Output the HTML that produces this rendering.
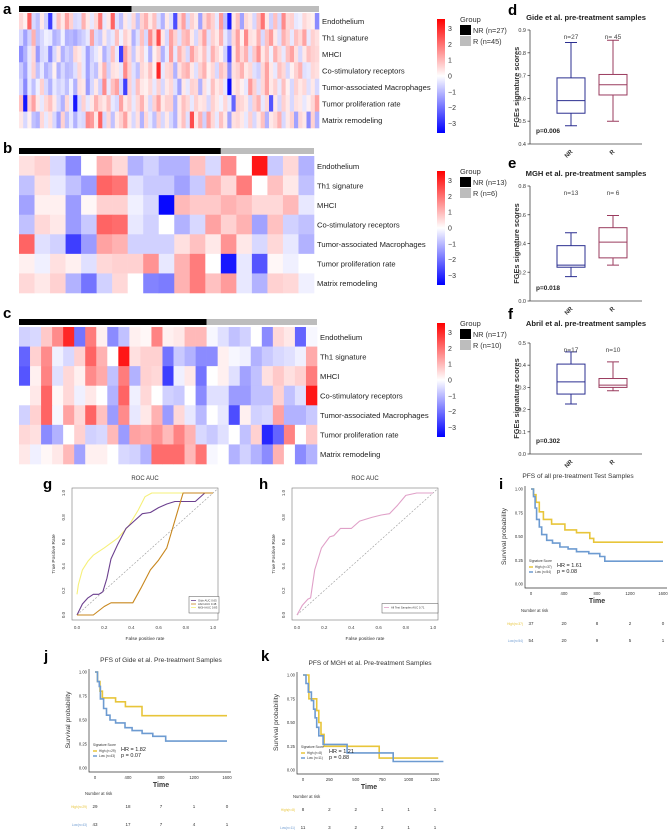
<!DOCTYPE html>
<html><head><meta charset="utf-8">
<style>
html,body{margin:0;padding:0;background:#fff;}
svg{display:block;font-family:"Liberation Sans",sans-serif;}
</style></head>
<body>
<svg id="fig" width="671" height="833" viewBox="0 0 671 833" xmlns="http://www.w3.org/2000/svg">
<defs>
<linearGradient id="cbgrad" x1="0" y1="0" x2="0" y2="1">
<stop offset="0" stop-color="#ff0000"/><stop offset="0.5" stop-color="#ffffff"/><stop offset="1" stop-color="#0000ff"/>
</linearGradient>
</defs>
</svg>
<script>
// ---------------- DATA ----------------
const rowLabels = ["Endothelium","Th1 signature","MHCI","Co-stimulatory receptors","Tumor-associated Macrophages","Tumor proliferation rate","Matrix remodeling"];
const heatA = [
[.5,.2,2,-.5,-.8,.3,-.6,-2.5,-.3,.8,.3,1.2,.6,-.5,-.4,1,.3,-.3,.5,1.7,-.3,.3,2,-.4,-.8,.3,-.3,.5,-.8,.6,1,.3,.8,-.4,-1,.3,-.4,-2.3,.5,1.2,-.5,.6,.3,-1.2,.5,1,.6,-.3,1.3,-.8,-3,.3,.8,-1.2,.5,.3,-.5,.8,1.8,.3,-.6,.8,-.5,1.5,.5,.6,-.3,-.2,.5,.3,.2,-1.5],
[-.5,-1.2,-.6,1,-.8,-.5,-.2,-.3,-1,-.8,-.2,-1,-.9,-1.1,-.8,-.6,-.3,1.2,-.5,-.7,.3,-.5,-.3,.8,-.2,.6,.3,-1,-.4,.8,-.5,1.5,.5,2.3,.3,-.5,1.2,.6,-.4,.8,1,.3,-.5,.5,1.2,-.4,.6,.3,1,-.3,-.8,.5,1.2,.2,1.5,.4,.3,1,-.5,.8,1.3,.3,-.4,1,.6,-.3,.8,.5,1.2,-.3,.6,.4],
[-1.5,-1,-.3,.5,-1.3,-.5,-.4,-1.5,-.5,.3,-1,-.6,-.8,.5,.3,-.3,-1.2,-.6,-.3,.2,-1,-.5,.8,-.3,-2.5,1.2,.5,-.7,.3,.6,-.2,-1,.2,.6,-1,-.3,1.3,-.3,1,.5,-.5,1.2,.6,.3,.8,-.3,1,.5,.2,-.6,-2.5,.3,1.2,.5,1,-.4,.7,1.4,.3,.8,-.2,1,.5,-.3,.8,1.2,.4,-.5,.3,.8,.6,.5],
[-.7,-1.2,-.3,.6,-.8,-.3,-1,-.7,.2,-1,-.5,-.9,-.8,-.4,.5,-.3,-1.2,-.5,-.8,.3,1,-.6,.4,.3,-.3,1.5,.6,-.4,-.8,.5,.3,.8,.2,2.8,-.3,.5,.6,-1,.4,.8,1,.3,-.4,.6,1,.2,.5,-.5,.8,.5,-1.5,.4,.6,1,.3,.5,-.4,-.6,.5,1.2,.3,-.3,.8,.5,-.5,.2,.6,1,-.4,-.3,.5,.4],
[-.5,-1.5,-.3,-.8,-.2,.6,-.5,-1,-.3,-.6,-.4,-.8,-.2,-1,.4,.3,-1.3,-.5,.3,-.6,1.5,-.3,.8,1.2,-.5,-2.5,.6,-.4,.8,.3,.2,.5,-.3,.6,-.5,.3,.5,-.4,-1.2,.3,-.3,.6,.5,-1,.4,-.2,.8,.3,.5,-.3,-3.2,.3,.5,.2,-.3,1.3,.6,-.4,.5,1.2,.3,.6,-.3,.8,.2,-.5,.6,.3,.5,-.4,.3,-.5],
[.8,-3,.6,1.2,.3,-.3,.5,.8,.3,-.5,-1,.5,-.3,-3,-.5,.6,-.3,.3,1,.5,.3,.8,-.3,-.5,1.2,.3,.6,-.3,.5,1,.3,-.5,.6,1.2,.3,.6,.6,-1,.3,.8,.5,-.3,.6,.3,.4,-.5,.6,.3,-.2,.5,-.3,-2,.6,.5,.3,-.5,.6,1,-.3,.5,-2.2,.3,-.5,.6,.3,-.5,.4,.3,-.3,.2,.5,1.2],
[.3,-.5,.2,-.8,-1,.5,-.3,.4,-.5,-1.2,.6,-.8,-.3,-1,-.4,-.5,1.5,1.3,.3,2,-.5,.5,-.8,.3,.6,1.2,.3,-.5,.4,-1,.5,-.3,-.8,.6,-.5,.3,-.5,-1,.3,.8,-.4,2.3,.3,1,-.6,1.2,.5,-.3,.8,.3,-1.2,.4,.5,.3,-.3,.6,-.5,.3,.8,-1,.3,.5,1,-.5,.3,.6,-1.2,.5,.3,-1.5,.6,-1]
];
const heatB = [
[.4,.6,-.5,-1.5,0,1,.5,-1,-.6,-1,-1,.8,-.5,1.5,0,3,-.7,.5,-1],
[-.8,.4,-.3,-.8,-1.3,2,1.8,-.4,-.7,-.7,-1.2,-.7,1,.5,1.7,0,.8,.3,-.8],
[-1.2,.2,.2,-1.3,.1,.6,.6,-.2,-.5,-3.2,.9,.7,.7,1,.8,.5,.5,.9,-.3],
[-.8,.5,.3,-1.3,-.7,2,1.9,-.3,-.6,0,-1,-.5,1.2,.6,1,-1.2,.8,-.6,-.8],
[2,-.4,-.6,-2.5,-1.3,1.2,1,-.6,-.6,-.6,.4,.8,.3,1.4,.3,-.5,.5,-.3,-1],
[.2,-.2,.4,.2,-.4,.5,.6,.6,1.4,-.3,1,1.7,0,-3,-.3,-2.2,.1,-.2,0],
[.5,.3,.6,-1,-1.8,-.6,.5,0,-1.6,-1.7,1,1.7,.8,1.3,-.3,-1,.6,.5,-.2]
];
const heatC = [
[-.6,-.5,.7,1.5,2.8,-1.8,1.7,.2,-1.5,-.8,.2,.1,1.6,.2,.3,.9,.9,-.1,-.4,-.8,-.6,0,-1.5,.5,.3,-2,-.1],
[-2,.6,1.5,-.2,-.5,.6,2,1,0,3,.4,.6,.6,-1.8,-.7,-1,-1.5,-1.5,.2,-.1,-.2,-1,-.7,-.5,-.4,-.2,1.1],
[-2.2,.2,1.6,-.4,.5,.2,1.5,1.1,-.8,1.7,-1,.6,.5,-2.5,-.2,.3,-1.8,0,.2,-.4,-1.2,-.8,.4,.7,.4,.6,1.7],
[0,.3,2,.1,.5,-.2,.3,0,-1,2,-.2,.5,0,-.6,-.7,0,-1.5,-.4,-.4,-1.3,-1.3,-.8,-.8,.6,-.8,-.4,3],
[-.6,.6,2,-.1,1.2,.5,2,.8,-1.3,1.5,-.3,.3,1,-1.3,.5,-.3,-.9,0,-.3,-2.3,.2,-.6,-.5,1.2,-1,-1,-.7],
[.5,.4,-1.5,-1,0,.6,-.6,-.5,.9,-1.3,1.2,1.1,1.4,.9,1.6,1,-.5,-.7,-.4,0,-.8,.6,-2.8,-2,1.6,0,.7],
[.3,-.2,.1,.3,.9,-1.2,.2,.2,0,-.5,-.6,-1,1.9,1.9,1.9,.9,1.8,-.1,0,-1,-.6,-1,-1.5,1,0,-1.5,-1]
];
const cbTicks = [3,2,1,0,-1,-2,-3];

// box plots: [min, q1, median, q3, max]
const boxGroups = ["NR","R"];
const boxD = [[.48,.535,.59,.69,.845],[.5,.615,.66,.705,.855]];
const boxE = [[.17,.235,.25,.385,.475],[.25,.3,.41,.51,.595]];
const boxF = [[.225,.27,.325,.405,.46],[.285,.3,.31,.34,.415]];
const boxTicksD = [0.4,0.5,0.6,0.7,0.8,0.9];
const boxTicksE = [0.0,0.2,0.4,0.6,0.8];
const boxTicksF = [0.0,0.1,0.2,0.3,0.4,0.5];

// ROC curves
const rocTicks = [0,0.2,0.4,0.6,0.8,1.0];
const rocGideFpr = [0,.04,.08,.12,.16,.19,.22,.25,.3,.36,.42,.48,.54,.6,.66,.72,.8,.87,.94,1];
const rocGideTpr = [0,.09,.14,.17,.17,.19,.3,.46,.58,.71,.77,.83,.84,.88,.91,.93,.93,.93,1,1];
const rocAbrilFpr = [0,.12,.2,.25,.41,.47,.54,.6,.66,.7,.74,.78,1];
const rocAbrilTpr = [0,0,.07,.1,.1,.22,.37,.45,.55,.7,.85,1,1];
const rocMghFpr = [0,.01,.04,.08,.12,.2,.3,.38,.45,.5,.55,.6,1];
const rocMghTpr = [.17,.25,.37,.44,.49,.55,.63,.73,.86,.97,1,1,1];
const rocAllFpr = [0,.04,.08,.1,.13,.18,.24,.27,.32,.4,.46,.55,.62,.68,.74,.8,.88,1];
const rocAllTpr = [0,.08,.13,.14,.37,.55,.64,.65,.71,.71,.77,.8,.82,.83,.9,.98,1,1];

// Kaplan-Meier (step start times and survival values)
const kmITimesHigh = [0,30,60,100,150,250,411,552,713,760];
const kmISurvHigh  = [1,.94,.86,.76,.68,.63,.57,.54,.48,.44];
const kmITimesLow  = [0,30,50,68,100,130,190,260,350,450,552,700,834,895];
const kmISurvLow   = [1,.92,.8,.68,.6,.52,.46,.43,.39,.37,.34,.32,.29,.24];
const kmJTimesHigh = [0,30,60,90,250,368,570];
const kmJSurvHigh  = [1,.9,.8,.73,.69,.64,.545];
const kmJTimesLow  = [0,30,52,65,104,140,182,250,364,450,571,700,857];
const kmJSurvLow   = [1,.9,.85,.72,.62,.55,.5,.47,.42,.39,.36,.33,.28];
const kmKTimesHigh = [0,56,130,150,170,200,722];
const kmKSurvHigh  = [1,.75,.625,.5,.375,.25,.125];
const kmKTimesLow  = [0,28,50,80,100,115,130,150,190,418,854];
const kmKSurvLow   = [1,.91,.82,.73,.64,.55,.45,.36,.27,.18,.09];
const riskIHigh = [37,20,8,2,0];
const riskILow  = [54,20,9,5,1];
const riskJHigh = [29,18,7,1,0];
const riskJLow  = [43,17,7,4,1];
const riskKHigh = [8,2,2,1,1,1];
const riskKLow  = [11,3,2,2,1,1];
const kmTicks16 = [0,400,800,1200,1600];
const kmTicks125 = [0,250,500,750,1000,1250];
const survTicks = [0,0.25,0.5,0.75,1.0];

// ---------------- HELPERS ----------------
const NS='http://www.w3.org/2000/svg';
const svg=document.getElementById('fig');
function mk(tag,attrs,parent){const e=document.createElementNS(NS,tag);for(const k in attrs)e.setAttribute(k,attrs[k]);(parent||svg).appendChild(e);return e;}
function txt(x,y,s,attrs,parent){const e=mk('text',Object.assign({x:x,y:y},attrs||{}),parent);e.textContent=s;return e;}
function col(v){const t=Math.max(-1,Math.min(1,v/3.3));if(t>=0){const c=Math.round(255*(1-t));return 'rgb(255,'+c+','+c+')';}const c=Math.round(255*(1+t));return 'rgb('+c+','+c+',255)';}
function grp(name){const g=mk('g',{});return g;}

function panelLetter(x,y,s){const t=txt(x,y,s,{'font-size':15,'font-weight':'bold','fill':'#000'});}

// ---------------- HEATMAPS ----------------
function drawHeat(id,data,nNR,x0,x1,yBar,yTop,yBot,cbY0,cbY1,nrN,rN){
  const g=grp('heatmap-'+id);
  const nCols=data[0].length, nRows=data.length;
  const cw=(x1-x0)/nCols, rh=(yBot-yTop)/nRows;
  const xNR=x0+nNR*cw;
  let r=mk('rect',{x:x0,y:yBar,width:xNR-x0,height:6,fill:'#000'},g);
  
  r=mk('rect',{x:xNR,y:yBar,width:x1-xNR,height:6,fill:'#bdbdbd'},g);
  
  for(let i=0;i<nRows;i++){
    for(let j=0;j<nCols;j++){
      const c=mk('rect',{x:x0+j*cw,y:yTop+i*rh,width:cw+0.3,height:rh+0.3,fill:col(data[i][j])},g);
      
      
    }
    const l=txt(x1+3,yTop+(i+0.5)*rh+3,rowLabels[i],{'font-size':7.6,'fill':'#222'},g);
    
    
  }
  // colorbar
  const cb=mk('rect',{x:437,y:cbY0,width:8,height:cbY1-cbY0,fill:'url(#cbgrad)'},g);
  
  const mid=(cbY0+cbY1)/2, per=(cbY1-cbY0)/2/3.6;
  cbTicks.forEach(function(v){const t=txt(448,mid-v*per+2.5,String(v).replace('-','\u2212'),{'font-size':7,'fill':'#333'},g);});
  // legend
  const ly=cbY0+3;
  let t=txt(460,ly,'Group',{'font-size':7.5,'fill':'#333'},g);
  r=mk('rect',{x:460,y:ly+3,width:11,height:10,fill:'#000'},g);
  r=mk('rect',{x:460,y:ly+14,width:11,height:10,fill:'#bdbdbd'},g);
  t=txt(473,ly+11,'NR (n='+nrN+')',{'font-size':7.3,'fill':'#333'},g);
  t=txt(473,ly+22,'R (n='+rN+')',{'font-size':7.3,'fill':'#333'},g);
}
drawHeat('a',heatA,27,19,319,6,13,128,19,133,27,45);
drawHeat('b',heatB,13,19,314,148,156,293,171,285,13,6);
drawHeat('c',heatC,17,19,317,319,327,464,323,437,17,10);
panelLetter(3,14,'a');panelLetter(3,153,'b');panelLetter(3,318,'c');

// ---------------- BOX PLOTS ----------------
function drawBox(id,title,data,ticks,yTopPx,yBotPx,nLabels,pLabel,titleY){
  const g=grp('boxplot-'+id);
  const vmin=ticks[0],vmax=ticks[ticks.length-1];
  const y=function(v){return yBotPx-(v-vmin)/(vmax-vmin)*(yBotPx-yTopPx);};
  const ax=530, xs=[571,613], colors=['#2b2f90','#9a3b5e'];
  let t=txt(586,titleY,title,{'font-size':7.6,'font-weight':'bold','text-anchor':'middle','fill':'#222'},g);
  let l=mk('line',{x1:ax,y1:yTopPx,x2:ax,y2:yBotPx,stroke:'#444','stroke-width':0.8},g);
  l=mk('line',{x1:ax,y1:yBotPx,x2:642,y2:yBotPx,stroke:'#444','stroke-width':0.8},g);
  ticks.forEach(function(v){
    const tk=mk('line',{x1:ax-2.5,y1:y(v),x2:ax,y2:y(v),stroke:'#444','stroke-width':0.8},g);
    const tl=txt(ax-4,y(v)+2,v.toFixed(1),{'font-size':5.5,'text-anchor':'end','fill':'#333'},g);
  });
  const mid=(yTopPx+yBotPx)/2;
  t=txt(519,mid,'FGEs signature scores',{'font-size':7.4,'font-weight':'bold','text-anchor':'middle','fill':'#333','transform':'rotate(-90 519 '+mid+')'},g);
  data.forEach(function(d,i){
    const cx=xs[i], w=14, c=colors[i];
    const wh=mk('path',{d:'M'+cx+' '+y(d[0])+'V'+y(d[1])+'M'+cx+' '+y(d[3])+'V'+y(d[4])+'M'+(cx-6)+' '+y(d[0])+'H'+(cx+6)+'M'+(cx-6)+' '+y(d[4])+'H'+(cx+6),stroke:c,'stroke-width':1,fill:'none'},g);
    
    const b=mk('rect',{x:cx-w,y:y(d[3]),width:2*w,height:y(d[1])-y(d[3]),stroke:c,'stroke-width':1,fill:'none'},g);
    
    const m=mk('line',{x1:cx-w,x2:cx+w,y1:y(d[2]),y2:y(d[2]),stroke:c,'stroke-width':1},g);
    
    const n=txt(cx,yTopPx+9,nLabels[i],{'font-size':6.5,'text-anchor':'middle','fill':'#444'},g);
    const xl=txt(cx+2,yBotPx+8,boxGroups[i],{'font-size':6,'font-weight':'bold','text-anchor':'end','fill':'#333','transform':'rotate(-45 '+(cx+2)+' '+(yBotPx+8)+')'},g);
  });
  t=txt(536,yBotPx-11,pLabel,{'font-size':6.5,'font-weight':'bold','fill':'#222'},g);
}
drawBox('d','Gide et al. pre-treatment samples',boxD,boxTicksD,30,144,['n=27','n= 45'],'p=0.006',20);
drawBox('e','MGH et al. pre-treatment samples',boxE,boxTicksE,186,301,['n=13','n= 6'],'p=0.018',176);
drawBox('f','Abril et al. pre-treatment samples',boxF,boxTicksF,343,454,['n=17','n=10'],'p=0.302',326);
panelLetter(508,15,'d');panelLetter(508,168,'e');panelLetter(508,319,'f');

// ---------------- ROC ----------------
function drawRoc(id,x0,x1,series,legend){
  const g=grp('roc-'+id);
  const yT=493,yB=615;
  const X=function(v){return x0+v*(x1-x0);}, Y=function(v){return yB-v*(yB-yT);};
  let r=mk('rect',{x:x0-5,y:yT-5,width:(x1-x0)+10,height:(yB-yT)+10,fill:'none',stroke:'#777','stroke-width':0.6},g);
  let t=txt((x0+x1)/2,480,'ROC AUC',{'font-size':6,'text-anchor':'middle','fill':'#333'},g);
  let d=mk('line',{x1:X(0),y1:Y(0),x2:X(1.03),y2:Y(1.03),stroke:'#999','stroke-width':0.6,'stroke-dasharray':'2,1.5'},g);
  rocTicks.forEach(function(v){
    const a=txt(X(v),629,v.toFixed(1),{'font-size':4.5,'text-anchor':'middle','fill':'#444'},g);
    const b=txt(x0-12,Y(v),v.toFixed(1),{'font-size':4.5,'text-anchor':'middle','fill':'#444','transform':'rotate(-90 '+(x0-12)+' '+Y(v)+')'},g);
  });
  t=txt((x0+x1)/2,640,'False positive rate',{'font-size':4.8,'text-anchor':'middle','fill':'#333'},g);
  t=txt(x0-22,554,'True Positive Rate',{'font-size':4.8,'text-anchor':'middle','fill':'#333','transform':'rotate(-90 '+(x0-22)+' 554)'},g);
  series.forEach(function(s){
    let p='';for(let i=0;i<s.f.length;i++){p+=(i?'L':'M')+X(s.f[i]).toFixed(1)+' '+Y(s.t[i]).toFixed(1);}
    const pa=mk('path',{d:p,stroke:s.c,'stroke-width':1.1,fill:'none','stroke-linejoin':'round'},g);
    
  });
  const lx=legend.x, ly=605, lw=legend.w, lh=6+legend.items.length*3.5;
  r=mk('rect',{x:lx,y:ly-(lh-8),width:lw,height:lh,fill:'#fff',stroke:'#555','stroke-width':0.5},g);
  legend.items.forEach(function(it,i){
    const yy=ly-(lh-8)+4+i*3.5;
    const ln=mk('line',{x1:lx+2,x2:lx+7,y1:yy,y2:yy,stroke:it.c,'stroke-width':0.8},g);
    const lt=txt(lx+9,yy+1,it.s,{'font-size':2.8,'fill':'#333'},g);
  });
}
drawRoc('g',77,213,[
  {n:'mgh',f:rocMghFpr,t:rocMghTpr,c:'#f6f07a'},
  {n:'gide',f:rocGideFpr,t:rocGideTpr,c:'#6b3f8e'},
  {n:'abril',f:rocAbrilFpr,t:rocAbrilTpr,c:'#c8871e'}
],{x:189,w:30,items:[{c:'#6b3f8e',s:'Gide AUC 0.65'},{c:'#c8871e',s:'Abril AUC 0.48'},{c:'#f6f07a',s:'MGH AUC 0.83'}]});
drawRoc('h',297,433,[{n:'all',f:rocAllFpr,t:rocAllTpr,c:'#e0a0c8'}],{x:382,w:56,items:[{c:'#e0a0c8',s:'All Test Samples AUC 0.71'}]});
panelLetter(43,489,'g');panelLetter(259,489,'h');

// ---------------- KAPLAN-MEIER ----------------
function stepPath(times,surv,tEnd,X,Y){
  let p='M'+X(times[0]).toFixed(1)+' '+Y(surv[0]).toFixed(1);
  for(let i=1;i<times.length;i++){p+='H'+X(times[i]).toFixed(1)+'V'+Y(surv[i]).toFixed(1);}
  return p+'H'+X(tEnd).toFixed(1);
}
function drawKM(c){
  const g=grp('km-'+c.id);
  const X=function(t){return c.x0+t/c.tMax*(c.x1-c.x0);}, Y=function(s){return c.yB-s*(c.yB-c.yT);};
  const axX=c.x0-6, axY=c.yB+4;
  let t=txt(c.tx,c.titleY,c.title,{'font-size':6.6,'text-anchor':'middle','fill':'#333'},g);
  let l=mk('path',{d:'M'+axX+' '+(c.yT-3)+'V'+axY+'H'+(c.x1+4),stroke:'#333','stroke-width':0.7,fill:'none'},g);
  survTicks.forEach(function(v){
    const a=txt(axX-2,Y(v)+1.5,v.toFixed(2),{'font-size':4.2,'text-anchor':'end','fill':'#333'},g);
  });
  c.ticks.forEach(function(v){
    const a=txt(X(v),axY+7,String(v),{'font-size':4.2,'text-anchor':'middle','fill':'#333'},g);
  });
  t=txt((c.x0+c.x1)/2,axY+15,'Time',{'font-size':7,'font-weight':'bold','text-anchor':'middle','fill':'#333'},g);
  const ym=(c.yT+c.yB)/2;
  t=txt(axX-19,ym,'Survival probability',{'font-size':6.8,'text-anchor':'middle','fill':'#333','transform':'rotate(-90 '+(axX-19)+' '+ym+')'},g);
  let p=mk('path',{d:stepPath(c.th,c.sh,c.tEndH,X,Y),stroke:'#e8c53a','stroke-width':1.6,fill:'none'},g);
  p=mk('path',{d:stepPath(c.tl,c.sl,c.tEndL,X,Y),stroke:'#6d9bd1','stroke-width':1.6,fill:'none'},g);
  // legend
  const lx=c.x0-2, ly=c.yB-22;
  t=txt(lx,ly,'Signature Score',{'font-size':3.2,'fill':'#333'},g);
  l=mk('line',{x1:lx,x2:lx+4,y1:ly+5,y2:ly+5,stroke:'#e8c53a','stroke-width':1.5},g);
  t=txt(lx+6,ly+6,c.highLab,{'font-size':3.2,'fill':'#333'},g);
  l=mk('line',{x1:lx,x2:lx+4,y1:ly+10,y2:ly+10,stroke:'#6d9bd1','stroke-width':1.5},g);
  t=txt(lx+6,ly+11,c.lowLab,{'font-size':3.2,'fill':'#333'},g);
  t=txt(lx+28,ly+5,c.hr,{'font-size':5.5,'fill':'#222'},g);
  t=txt(lx+28,ly+11,c.pv,{'font-size':5.5,'fill':'#222'},g);
  // risk table
  t=txt(c.x0-10,c.nrY,'Number at risk',{'font-size':4.2,'fill':'#333'},g);
  t=txt(c.x0-8,c.r1Y,c.highLab.replace(' ',''),{'font-size':3.2,'fill':'#e8c53a','text-anchor':'end'},g);
  t=txt(c.x0-8,c.r2Y,c.lowLab.replace(' ',''),{'font-size':3.2,'fill':'#6d9bd1','text-anchor':'end'},g);
  c.rh.forEach(function(v,i){const a=txt(X(c.ticks[i]),c.r1Y,String(v),{'font-size':4.5,'text-anchor':'middle','fill':'#333'},g);});
  c.rl.forEach(function(v,i){const a=txt(X(c.ticks[i]),c.r2Y,String(v),{'font-size':4.5,'text-anchor':'middle','fill':'#333'},g);});
}
drawKM({id:'i',title:'PFS of all pre-treatment Test Samples',tx:578,titleY:478,x0:531,x1:663,tMax:1600,yT:489,yB:584,ticks:kmTicks16,
  th:kmITimesHigh,sh:kmISurvHigh,tEndH:1600,tl:kmITimesLow,sl:kmISurvLow,tEndL:1600,highLab:'High (n=37)',lowLab:'Low (n=54)',hr:'HR = 1.61',pv:'p = 0.08',
  nrY:612,r1Y:625,r2Y:642,rh:riskIHigh,rl:riskILow});
drawKM({id:'j',title:'PFS of Gide et al. Pre-treatment Samples',tx:161,titleY:662,x0:95,x1:227,tMax:1600,yT:672,yB:768,ticks:kmTicks16,
  th:kmJTimesHigh,sh:kmJSurvHigh,tEndH:1600,tl:kmJTimesLow,sl:kmJSurvLow,tEndL:1600,highLab:'High (n=29)',lowLab:'Low (n=43)',hr:'HR = 1.82',pv:'p = 0.07',
  nrY:795,r1Y:808,r2Y:826,rh:riskJHigh,rl:riskJLow});
drawKM({id:'k',title:'PFS of MGH et al. Pre-treatment Samples',tx:370,titleY:665,x0:303,x1:435,tMax:1250,yT:675,yB:770,ticks:kmTicks125,
  th:kmKTimesHigh,sh:kmKSurvHigh,tEndH:1280,tl:kmKTimesLow,sl:kmKSurvLow,tEndL:1330,highLab:'High (n=8)',lowLab:'Low (n=11)',hr:'HR = 1.21',pv:'p = 0.88',
  nrY:798,r1Y:811,r2Y:829,rh:riskKHigh,rl:riskKLow});
panelLetter(499,489,'i');panelLetter(44,661,'j');panelLetter(261,661,'k');
</script>
</body></html>
